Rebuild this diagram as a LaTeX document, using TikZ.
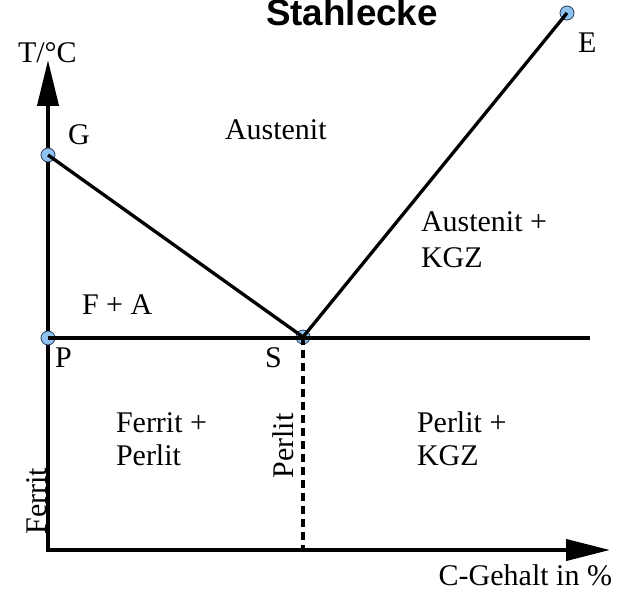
\documentclass[tikz,border=0pt]{standalone}
\usepackage{fontspec}
\setmainfont{Liberation Serif}
\newfontfamily\titlefont{Liberation Sans}
\usetikzlibrary{arrows.meta}
\definecolor{ptfill}{RGB}{143,194,241}
\definecolor{ptedge}{RGB}{40,60,90}
\begin{document}
\begin{tikzpicture}[x=1pt,y=-1pt,
  lbl/.style={inner sep=0pt,outer sep=0pt,font=\fontsize{30}{34}\selectfont},
  axisline/.style={line width=4pt,line join=miter,
     {Triangle[length=46pt,width=21pt]}-{Triangle[length=44pt,width=21pt]}},
  phaseline/.style={line width=3.3pt},
  dashline/.style={line width=4pt,dash pattern=on 8pt off 5pt},
  ptdot/.style={circle,draw=ptedge,fill=ptfill,line width=0.8pt,minimum size=14pt,inner sep=0pt}]
\useasboundingbox (0,0) rectangle (621,593);
% coordinates
\coordinate (O) at (48,550);
\coordinate (Ytip) at (48,60);
\coordinate (Xtip) at (610,550);
\coordinate (Hend) at (590,338);
\coordinate (Sfoot) at (303,550);
% axes
\draw[axisline] (Ytip) -- (O) -- (Xtip);
% points
\node[ptdot] (G) at (48,155) {};
\node[ptdot] (P) at (48,338) {};
\node[ptdot] (S) at (303,337) {};
\node[ptdot] (E) at (567,13) {};
% phase lines
\draw[phaseline] (G.center) -- (S.center);
\draw[phaseline] (S.center) -- (E.center);
\draw[phaseline] (P.center) -- (Hend);
\draw[dashline] (S.center) -- (Sfoot);
% title
\node[inner sep=0pt,anchor=base,font=\titlefont\bfseries\fontsize{36.8}{40}\selectfont] (title) at (352,26) {Stahlecke};
% axis labels
\node[lbl,anchor=base west] (ylab) at (18,63) {T/°C};
\node[lbl,anchor=base east] (xlab) at (612,585) {C-Gehalt in \%};
% point labels
\node[lbl,anchor=base west] (Glab) at (68,145) {G};
\node[lbl,anchor=base west] (Plab) at (55,368) {P};
\node[lbl,anchor=base west] (Slab) at (265,367) {S};
\node[lbl,anchor=base west] (Elab) at (578,53) {E};
% region labels
\node[lbl,anchor=base west] (aus) at (225,140) {Austenit};
\node[lbl,anchor=base west] (ausk1) at (421,232) {Austenit +};
\node[lbl,anchor=base west] (ausk2) at (421,268) {KGZ};
\node[lbl,anchor=base west] (fa) at (82,315) {F + A};
\node[lbl,anchor=base west] (fp1) at (116,432) {Ferrit +};
\node[lbl,anchor=base west] (fp2) at (116,465) {Perlit};
\node[lbl,anchor=base west] (pk1) at (417,432) {Perlit +};
\node[lbl,anchor=base west] (pk2) at (417,465) {KGZ};
\node[lbl,anchor=base,rotate=90] (perl) at (293,446) {Perlit};
\node[lbl,anchor=base,rotate=90] (ferr) at (46,501) {Ferrit};
\end{tikzpicture}
\end{document}
